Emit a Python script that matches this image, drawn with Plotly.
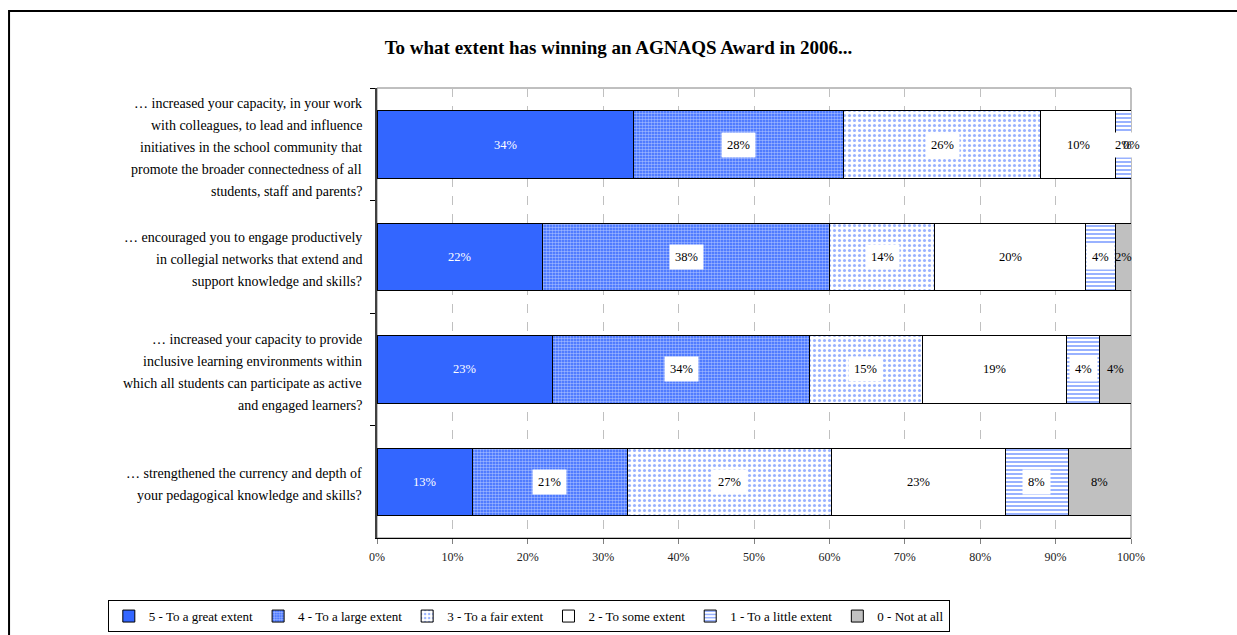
import plotly.graph_objects as go

# Survey statements (line breaks mark the wrapped label lines)
questions = [
    "… increased your capacity, in your work<br>with colleagues, to lead and influence<br>initiatives in the school community that<br>promote the broader connectedness of all<br>students, staff and parents?",
    "… encouraged you to engage productively<br>in collegial networks that extend and<br>support knowledge and skills?",
    "… increased your capacity to provide<br>inclusive learning environments within<br>which all students can participate as active<br>and engaged learners?",
    "… strengthened the currency and depth of<br>your pedagogical knowledge and skills?",
]

series_names = [
    "5 - To a great extent",
    "4 - To a large extent",
    "3 - To a fair extent",
    "2 - To some extent",
    "1 - To a little extent",
    "0 - Not at all",
]

# Percentage of respondents per response level, one value per statement
great_extent = [34.0, 22.0, 23.3, 12.6]
large_extent = [27.9, 38.0, 34.1, 20.6]
fair_extent = [26.1, 14.0, 14.9, 27.1]
some_extent = [10.0, 20.0, 19.2, 23.0]
little_extent = [2.0, 4.0, 4.3, 8.4]
not_at_all = [0.0, 2.0, 4.2, 8.3]

x_tick_values = [0, 10, 20, 30, 40, 50, 60, 70, 80, 90, 100]
x_tick_labels = ["0%", "10%", "20%", "30%", "40%", "50%", "60%", "70%", "80%", "90%", "100%"]

all_series = [great_extent, large_extent, fair_extent, some_extent, little_extent, not_at_all]

BLUE = "#3366FF"
SERIF = "Liberation Serif, Times New Roman, serif"

fills = [
    dict(color=BLUE),
    dict(color=BLUE, pattern=dict(shape=".", size=3, solidity=0.55, fgcolor="white", bgcolor=BLUE)),
    dict(color="white", pattern=dict(shape=".", size=5, solidity=0.3, fgcolor=BLUE, bgcolor="white")),
    dict(color="white"),
    dict(color="white", pattern=dict(shape="-", size=4, solidity=0.5, fgcolor=BLUE, bgcolor="white")),
    dict(color="#C0C0C0"),
]
label_colors = ["white", "black", "black", "black", "black", "black"]
label_boxes = [None, "white", "white", None, "white", None]

fig = go.Figure()
for name, vals, fill in zip(series_names, all_series, fills):
    fig.add_trace(go.Bar(
        y=questions, x=vals, name=name, orientation="h",
        marker=dict(line=dict(color="black", width=1), **fill),
        hoverinfo="skip",
    ))

annotations = []
# value labels centred in each segment
for q_i, q in enumerate(questions):
    left = 0.0
    for s_i, vals in enumerate(all_series):
        v = vals[q_i]
        a = dict(
            x=left + v / 2, y=q, xref="x", yref="y",
            text=f"{v:.0f}%", showarrow=False,
            font=dict(family=SERIF, size=12.5, color=label_colors[s_i]),
        )
        if label_boxes[s_i]:
            a.update(bgcolor=label_boxes[s_i], borderpad=5)
        annotations.append(a)
        left += v

# category labels, one annotation per wrapped line
LINE_STEP = 22
for q in questions:
    lines = q.split("<br>")
    n = len(lines)
    for i, line in enumerate(lines):
        annotations.append(dict(
            x=-0.0172, y=q, xref="paper", yref="y", xanchor="right",
            yshift=-((i - (n - 1) / 2) * LINE_STEP) - 3,
            text=line, showarrow=False, align="right",
            font=dict(family=SERIF, size=14, color="black"),
        ))

shapes = [
    # plot-area border
    dict(type="rect", xref="paper", yref="paper", x0=0, x1=1, y0=0, y1=1,
         line=dict(color="#808080", width=1), layer="below"),
    # outer chart frame
    dict(type="rect", xref="paper", yref="paper", x0=-0.488, x1=1.2, y0=-0.3, y1=1.171,
         line=dict(color="black", width=2), layer="below"),
]

fig.update_layout(
    width=1237, height=635,
    margin=dict(l=377, r=106, t=88, b=97, autoexpand=False),
    paper_bgcolor="white", plot_bgcolor="white",
    barmode="stack", bargap=0.4,
    font=dict(family=SERIF, size=12, color="black"),
    title=dict(
        text="<b>To what extent has winning an AGNAQS Award in 2006...</b>",
        x=0.5, xref="container", xanchor="center",
        y=1 - 47 / 635, yref="container", yanchor="middle",
        font=dict(family=SERIF, size=19, color="black"),
    ),
    xaxis=dict(
        range=[0, 100], tickvals=x_tick_values, ticktext=x_tick_labels,
        showgrid=True, gridcolor="#C0C0C0", griddash="dash", gridwidth=1,
        showline=True, linecolor="black", linewidth=1,
        ticks="outside", ticklen=5, tickcolor="#808080",
        tickfont=dict(family=SERIF, size=12, color="#222"),
        ticklabelstandoff=3,
        zeroline=False, fixedrange=True,
    ),
    yaxis=dict(
        categoryorder="array", categoryarray=questions, autorange="reversed",
        showticklabels=False, tickson="boundaries",
        ticks="outside", ticklen=5, tickcolor="black",
        showline=True, linecolor="#404040", linewidth=2,
        showgrid=False, zeroline=False, fixedrange=True,
    ),
    legend=dict(
        orientation="h",
        x=-0.357, xanchor="left", y=-0.138, yanchor="top",
        bordercolor="black", borderwidth=1, bgcolor="white",
        font=dict(family=SERIF, size=13, color="black"),
        traceorder="normal", itemwidth=30,
    ),
    annotations=annotations,
    shapes=shapes,
)

fig.write_html("out.html")
